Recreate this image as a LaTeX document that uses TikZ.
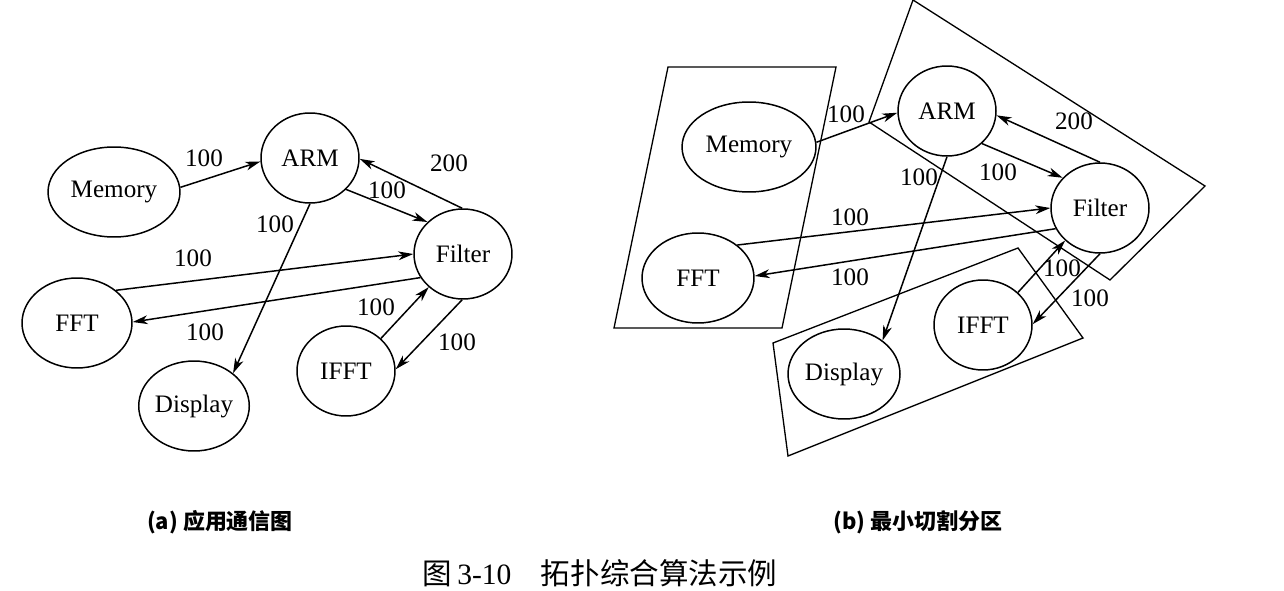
\documentclass[tikz,border=0pt]{standalone}
\usepackage{fontspec}
\setmainfont{Liberation Serif}
\newfontfamily\cjk{Noto Sans CJK SC}
\usetikzlibrary{shapes.geometric,arrows.meta}

\begin{document}
\begin{tikzpicture}[x=0.02cm, y=-0.02cm, line width=0.85pt, >={Stealth[length=8.5pt,width=5pt,inset=2.5pt]},
    proc/.style={ellipse, draw, inner sep=0pt, minimum height=1.8cm, font=\fontsize{14.3}{17}\selectfont},
    wt/.style={inner sep=0pt, font=\fontsize{14.3}{17}\selectfont},
    part/.style={draw, line width=0.75pt},
    sub/.style={font=\cjk\bfseries\fontsize{12.5}{15}\selectfont}]
    \useasboundingbox (0,0) rectangle (1284,591);

    % (a) Application graph.
    \node[proc, minimum width=2.64cm] (Mem-a) at (114,192) {Memory};
    \node[proc, minimum width=1.96cm] (ARM-a) at (310,158) {ARM};
    \node[proc, minimum width=1.96cm] (Fil-a) at (463,254) {Filter};
    \node[proc, minimum width=2.2cm] (FFT-a) at (77,323) {FFT};
    \node[proc, minimum width=2.2cm] (Dis-a) at (194,406) {Display};
    \node[proc, minimum width=1.96cm] (IFFT-a) at (346,371) {IFFT};

    \foreach \s/\e in {Mem-a.4/ARM-a.184, ARM-a.319/Fil-a.138, Fil-a.91/ARM-a.359,
                       ARM-a.270/Dis-a.40, FFT-a.40/Fil-a.180, Fil-a.209/FFT-a.1,
                       IFFT-a.43/Fil-a.224, Fil-a.269/IFFT-a.2}
        \draw[->] (\s) -- (\e);

    \foreach \n/\x/\y/\t in {1/204/158/100, 2/449/163/200, 3/387/190/100, 4/275/224/100,
                             5/193/258/100, 6/205/332/100, 7/376/307/100, 8/457/342/100}
        \node[wt] (wa\n) at (\x,\y) {\t};

    % (b) Min-cut partition.
    \draw[part] (668,67) -- (836,67) -- (782,328) -- (614,328) -- cycle;
    \draw[part] (913,0) -- (1205,186) -- (1110,280) -- (869,122) -- cycle;
    \draw[part] (773,343) -- (1018,248) -- (1083,338) -- (788,456) -- cycle;

    \node[proc, minimum width=2.68cm] (Mem-b) at (749,147) {Memory};
    \node[proc, minimum width=1.96cm] (ARM-b) at (947,111) {ARM};
    \node[proc, minimum width=1.96cm] (Fil-b) at (1100,208) {Filter};
    \node[proc, minimum width=2.24cm] (FFT-b) at (698,278) {FFT};
    \node[proc, minimum width=2.24cm] (Dis-b) at (844,374) {Display};
    \node[proc, minimum width=1.96cm] (IFFT-b) at (983,325) {IFFT};

    \foreach \s/\e in {Mem-b.4/ARM-b.182, ARM-b.317/Fil-b.141, Fil-b.90/ARM-b.355,
                       ARM-b.270/Dis-b.41, FFT-b.40/Fil-b.180, Fil-b.205/FFT-b.2,
                       IFFT-b.43/Fil-b.223, Fil-b.270/IFFT-b.1}
        \draw[->] (\s) -- (\e);

    \foreach \n/\x/\y/\t in {1/846/114/100, 2/1074/121/200, 3/998/172/100, 4/919/177/100,
                             5/850/217/100, 6/850/277/100, 7/1062/268/100, 8/1090/298/100}
        \node[wt] (wb\n) at (\x,\y) {\t};

    % Captions.
    \node[sub] (cap-a) at (220,522) {(a)\ 应用通信图};
    \node[sub] (cap-b) at (918,522) {(b)\ 最小切割分区};
    \node[font=\cjk\fontsize{16.8}{20}\selectfont] (cap) at (600,573) {图\,{\rmfamily 3-10}\quad 拓扑综合算法示例};
\end{tikzpicture}
\end{document}
